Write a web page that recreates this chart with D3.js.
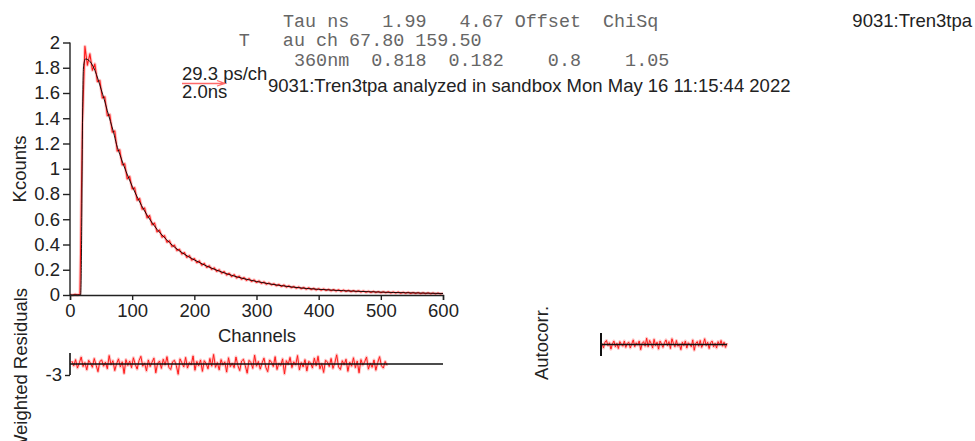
<!DOCTYPE html>
<html><head><meta charset="utf-8">
<script src="https://cdn.jsdelivr.net/npm/d3@7"></script>
<style>
html,body{margin:0;padding:0;background:#fff;}
svg text{font-family:"Liberation Sans",Arial,sans-serif;}
.mono{font-family:"Liberation Mono","Courier New",monospace;white-space:pre;}
</style></head>
<body>
<svg id="c" width="975" height="441"></svg>
<script>
// ---------- data ----------
const yTicks = [0,0.2,0.4,0.6,0.8,1,1.2,1.4,1.6,1.8,2];
const xTicks = [0,100,200,300,400,500,600];
const dataStep = 4; // channels between data samples
const decayData = [0.003,-0.002,0.005,0.001,0.006,1.36,1.97,1.82,1.91,1.78,1.83,1.69,1.70,1.56,1.57,1.42,1.43,1.29,1.30,1.14,
 1.15,1.03,1.04,0.92,0.94,0.84,0.85,0.75,0.765,0.68,0.69,0.61,0.63,0.555,0.57,0.50,0.515,0.458,0.47,0.418,
 0.43,0.383,0.395,0.352,0.362,0.324,0.336,0.298,0.312,0.276,0.289,0.256,0.270,0.236,0.250,0.218,0.232,0.203,0.215,0.187,
 0.200,0.172,0.186,0.158,0.172,0.146,0.161,0.135,0.150,0.125,0.138,0.116,0.130,0.107,0.120,0.099,0.112,0.092,0.104,0.085,
 0.096,0.080,0.089,0.073,0.084,0.067,0.079,0.062,0.073,0.058,0.068,0.054,0.064,0.050,0.060,0.046,0.057,0.043,0.053,0.040,
 0.050,0.038,0.048,0.036,0.045,0.033,0.043,0.031,0.041,0.029,0.039,0.028,0.037,0.026,0.035,0.025,0.034,0.023,0.032,0.022,
 0.030,0.020,0.029,0.019,0.027,0.018,0.026,0.017,0.025,0.016,0.024,0.015,0.023,0.014,0.022,0.013,0.021,0.012,0.020,0.011,
 0.019,0.010,0.018,0.009,0.017,0.009,0.016,0.008,0.015,0.008,0.014];
const fitChannels = [0,17,18,19,20,21,22,25,30,35,40,45,50,55,60,65,70,75,80,85,90,95,100,105,110,120,130,140,150,160,170,180,190,200,
 220,240,260,280,300,320,340,360,380,400,420,440,460,480,500,520,540,560,580,600];
const fitValues = [0,0,0.15,0.65,1.3,1.7,1.82,1.87,1.86,1.83,1.78,1.71,1.63,1.55,1.46,1.375,1.29,1.19,1.115,1.045,0.98,0.92,0.862,0.808,0.757,
 0.665,0.587,0.52,0.465,0.415,0.372,0.336,0.305,0.278,
 0.229,0.189,0.156,0.129,0.107,0.089,0.074,0.062,0.052,0.045,0.039,0.034,0.030,0.026,0.023,0.020,0.018,0.016,0.014,0.012];
const residStartCh = 3, residStep = 3;
const residuals = [0.8,-0.5,1.2,-1.1,0.3,1.9,-0.7,0.4,-1.6,1.0,0.2,-0.9,1.5,-0.3,-2.1,0.7,1.1,-0.6,0.5,-1.3,
 2.3,-0.2,0.9,-1.8,0.1,1.4,-0.8,0.6,-2.6,1.2,-0.4,0.8,-1.0,1.7,-0.1,-1.4,0.9,2.1,-0.6,0.3,
 -1.9,1.1,-0.7,0.5,1.6,-2.4,0.2,0.8,-1.2,1.3,-0.3,2.0,-0.9,-1.5,0.6,1.0,-0.4,-2.8,1.4,0.3,
 -0.8,1.8,-1.1,0.4,-0.2,2.2,-1.7,0.7,-0.5,1.1,-2.0,0.9,0.1,-1.3,1.5,-0.6,2.6,-0.9,0.4,-1.6,
 1.2,-0.3,0.6,-2.2,1.7,-0.7,0.2,-1.0,1.9,-0.4,-1.8,0.8,1.3,-0.5,-2.5,1.0,0.4,-1.2,2.4,-0.6,
 0.7,-1.4,0.3,1.6,-0.9,-2.1,1.1,0.5,-0.7,2.0,-1.5,0.2,-0.4,1.4,-2.7,0.9,-0.1,1.8,-1.0,0.6,
 -0.3,2.3,-1.6,0.4,-0.8,1.2,-1.9,0.7,0.3,-1.1,1.6,-0.5,2.1,-1.3,0.1,-2.3,1.0,0.6,-0.7,1.5,
 -1.2,0.3,2.5,-0.8,-1.5,0.9,-0.2,1.3,-2.0,0.5,-0.6,1.7,-1.0,0.8,-2.4,1.2,-0.3,0.6,1.9,-1.4,
 0.2,-0.9,1.1,-1.7,0.4,2.0,-0.5,-1.1,0.7,-0.4];
const autocorr = [0.1,-0.3,0.2,0.35,-0.1,0.15,-0.4,0.05,0.3,-0.2,0.1,-0.35,0.25,0.0,-0.15,0.3,-0.25,0.1,0.2,-0.3,
 0.05,0.4,-0.2,0.15,-0.05,0.3,-0.45,0.1,0.25,-0.15,0.55,-0.2,0.35,0.1,-0.3,0.45,-0.1,0.2,-0.4,0.3,
 0.05,-0.25,0.15,0.4,-0.1,0.25,-0.35,0.5,0.1,-0.2,0.35,-0.15,0.05,-0.45,0.2,-0.1,0.3,-0.3,0.15,0.0,
 -0.2,0.4,-0.5,0.1,0.25,-0.15,0.35,-0.25,0.05,0.5,-0.1,0.2,-0.35,0.15,0.3,-0.2,0.1,-0.3,0.25,-0.05,
 0.35,-0.15,0.2,-0.25,0.1];
const headerLines = ["Tau ns   1.99   4.67 Offset  ChiSq", "T   au ch 67.80 159.50", " 360nm  0.818  0.182    0.8    1.05"];
const scaleLabel1 = "29.3 ps/ch", scaleLabel2 = "2.0ns";
const titleText = "9031:Tren3tpa analyzed in sandbox Mon May 16 11:15:44 2022";
const sampleName = "9031:Tren3tpa";

// ---------- drawing ----------
const FS = 18.5;
const svg = d3.select("#c");
const x = d3.scaleLinear().domain([0,600]).range([70,443]);
const y = d3.scaleLinear().domain([0,2]).range([295,42.5]);

const red = "#ff1a1a";
function redPath(data, lineGen, w){
  svg.append("path").datum(data).attr("fill","none").attr("stroke",red).attr("stroke-opacity",0.25)
    .attr("stroke-width",w+2).attr("stroke-linejoin","round").attr("d",lineGen);
  svg.append("path").datum(data).attr("fill","none").attr("stroke",red)
    .attr("stroke-width",w).attr("stroke-linejoin","round").attr("d",lineGen);
}
// data
redPath(decayData, d3.line().x((d,i)=>x(i*dataStep)).y(d=>y(d)), 1.1);
// fit
svg.append("path").datum(fitValues)
  .attr("fill","none").attr("stroke","#000").attr("stroke-opacity",0.88).attr("stroke-width",1)
  .attr("d", d3.line().x((d,i)=>x(fitChannels[i])).y(d=>y(d)).curve(d3.curveMonotoneX));

// axes
const ax = svg.append("g").attr("transform","translate(70,0)")
  .call(d3.axisLeft(y).tickValues(yTicks).tickSize(7).tickPadding(3).tickFormat(d3.format("~g")));
const bx = svg.append("g").attr("transform","translate(0,295)")
  .call(d3.axisBottom(x).tickValues(xTicks).tickSize(5).tickPadding(4));
[ax,bx].forEach(g=>{
  g.selectAll("path").attr("stroke","#222").attr("stroke-width",1.4);
  g.selectAll("line").attr("stroke","#222").attr("stroke-width",1.4);
  g.selectAll("text").attr("font-size",FS).attr("fill","#222").attr("font-family","Liberation Sans, Arial, sans-serif");
});
ax.select(".domain").attr("d","M0,42.5V295");

svg.append("text").attr("transform","translate(19,169) rotate(-90)").attr("text-anchor","middle")
  .attr("dominant-baseline","central").attr("font-size",FS).attr("fill","#222").text("Kcounts");
svg.append("text").attr("x",257).attr("y",342).attr("text-anchor","middle")
  .attr("font-size",FS).attr("fill","#222").text("Channels");

// residual panel
const ry = d3.scaleLinear().domain([-3,3]).range([375,353]);
redPath(residuals, d3.line().x((d,i)=>x(residStartCh+i*residStep)).y(d=>ry(d)), 1);
svg.append("line").attr("x1",x(0)).attr("x2",x(600)).attr("y1",ry(0)).attr("y2",ry(0))
  .attr("stroke","#111").attr("stroke-width",1.6);
const rax = svg.append("g").attr("transform","translate(70,0)")
  .call(d3.axisLeft(ry).tickValues([-3]).tickSize(5).tickPadding(3).tickFormat(d3.format("d")));
rax.select(".domain").attr("d","M0,353V375").attr("stroke","#111").attr("stroke-width",1.6);
rax.selectAll("line").attr("stroke","#222").attr("stroke-width",1.4);
rax.selectAll("text").attr("font-size",FS).attr("fill","#222").attr("font-family","Liberation Sans, Arial, sans-serif").text("-3");
svg.append("text").attr("transform","translate(20,370) rotate(-90)").attr("text-anchor","middle")
  .attr("dominant-baseline","central").attr("font-size",FS).attr("fill","#222").text("Weighted Residuals");

// autocorrelation panel
const acx = d3.scaleLinear().domain([0,autocorr.length-1]).range([602,727]);
const acy = d3.scaleLinear().domain([-1,1]).range([356,333]);
redPath(autocorr, d3.line().x((d,i)=>acx(i)).y(d=>acy(d)), 1);
svg.append("line").attr("x1",acx(0)).attr("x2",acx(autocorr.length-1)).attr("y1",acy(0)).attr("y2",acy(0))
  .attr("stroke","#111").attr("stroke-width",1.4);
svg.append("line").attr("x1",601).attr("x2",601).attr("y1",acy(1)).attr("y2",acy(-1))
  .attr("stroke","#111").attr("stroke-width",2);
svg.append("text").attr("transform","translate(541,343) rotate(-90)").attr("text-anchor","middle")
  .attr("dominant-baseline","central").attr("font-size",FS).attr("fill","#222").text("Autocorr.");

// header (monospace table)
const hx = 283, cw = 11.07;
svg.append("text").attr("class","mono").attr("x",hx).attr("y",26.5).attr("font-size",18.4).attr("fill","#666").text(headerLines[0]);
svg.append("text").attr("class","mono").attr("x",hx-4*cw).attr("y",46).attr("font-size",18.4).attr("fill","#666").text(headerLines[1]);
svg.append("text").attr("class","mono").attr("x",hx).attr("y",65.5).attr("font-size",18.4).attr("fill","#666").text(headerLines[2]);

// scale bar
svg.append("text").attr("x",182).attr("y",80).attr("font-size",FS).attr("fill","#222").text(scaleLabel1);
svg.append("text").attr("x",182).attr("y",98).attr("font-size",FS).attr("fill","#222").text(scaleLabel2);
svg.append("path").attr("d","M182,83.5H225M217,80.5L225,83.5L217,86").attr("fill","none")
  .attr("stroke","#ff6a6a").attr("stroke-width",1.3);
svg.append("text").attr("x",268).attr("y",92).attr("font-size",FS).attr("fill","#222").text(titleText);
svg.append("text").attr("x",972).attr("y",27).attr("text-anchor","end").attr("font-size",FS).attr("fill","#222").text(sampleName);
</script>
</body></html>
